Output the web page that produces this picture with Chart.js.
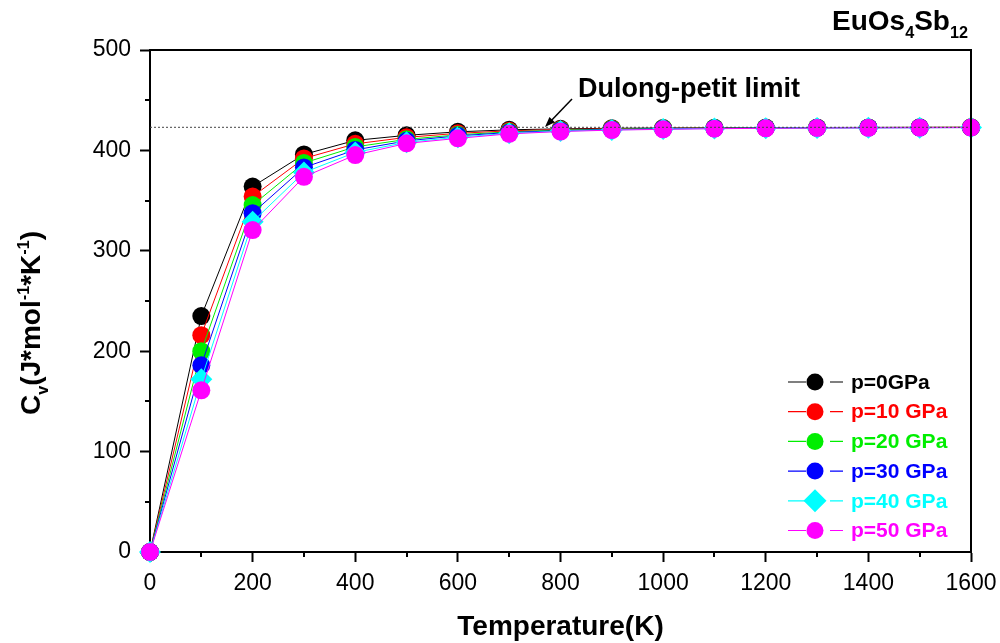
<!DOCTYPE html>
<html>
<head>
<meta charset="utf-8">
<script src="https://cdn.jsdelivr.net/npm/chart.js@4"></script>
<style>
  body { margin: 0; background: #fff; }
  canvas { display: block; }
</style>
</head>
<body>
<canvas id="cv" width="1000" height="643"></canvas>
<script>
// temperature (K) and heat capacity Cv (J/mol/K) at each pressure
var temps = [0, 100, 200, 300, 400, 500, 600, 700, 800, 900, 1000, 1100, 1200, 1300, 1400, 1500, 1600];
var cv0  = [0, 235, 364, 396, 410, 415, 418.5, 420.5, 421.5, 422, 422.3, 422.5, 422.7, 422.8, 422.9, 423, 423];
var cv10 = [0, 216, 354, 392, 406.5, 413, 417, 419.5, 420.8, 421.6, 422, 422.3, 422.5, 422.7, 422.8, 422.9, 423];
var cv20 = [0, 200, 345.5, 387.5, 403.5, 411, 415.5, 418.5, 420.2, 421.2, 421.8, 422.2, 422.4, 422.6, 422.7, 422.8, 422.9];
var cv30 = [0, 186, 337.5, 383, 400.5, 409.5, 414.5, 417.8, 419.7, 420.8, 421.5, 422, 422.3, 422.5, 422.6, 422.7, 422.8];
var cv40 = [0, 172, 329, 378, 398, 408, 413.2, 417, 419.2, 420.4, 421.2, 421.8, 422.1, 422.4, 422.5, 422.6, 422.7];
var cv50 = [0, 161, 320.6, 373.7, 395.4, 407, 412, 416.5, 418.8, 420.2, 421, 421.6, 422, 422.3, 422.5, 422.6, 422.7];
var dulongPetit = 423;

var seriesLabels = ['p=0GPa', 'p=10 GPa', 'p=20 GPa', 'p=30 GPa', 'p=40 GPa', 'p=50 GPa'];
var seriesValues = [cv0, cv10, cv20, cv30, cv40, cv50];
var colors = ['#000000', '#ff0000', '#00ee00', '#0000ff', '#00ffff', '#ff00ff'];
var styles = ['circle', 'circle', 'circle', 'circle', 'rectRot', 'circle'];

var FONT = '"Liberation Sans", Arial, sans-serif';

function pts(vals) {
  return temps.map(function (t, i) { return { x: t, y: vals[i] }; });
}

var datasets = seriesValues.map(function (vals, i) {
  return {
    label: seriesLabels[i],
    data: pts(vals),
    borderColor: colors[i],
    backgroundColor: colors[i],
    borderWidth: 1,
    pointStyle: styles[i],
    pointRadius: styles[i] === 'rectRot' ? 11 : 9,
    pointBorderWidth: 0,
    pointBorderColor: colors[i],
    tension: 0,
    clip: false,
    order: 5 - i
  };
});

datasets.push({
  label: 'Dulong-petit',
  data: [{ x: temps[0], y: dulongPetit }, { x: temps[temps.length - 1], y: dulongPetit }],
  borderColor: '#444444',
  borderWidth: 1,
  borderDash: [2, 2],
  pointRadius: 0,
  clip: false,
  order: -1
});

// draws text pieces with sub/superscripts starting at x, baseline y
function richText(ctx, parts, x, y, size) {
  var cx = x;
  parts.forEach(function (p) {
    var s = p.s ? size * 0.58 : size;
    var dy = p.s === 'sub' ? size * 0.28 : (p.s === 'sup' ? -size * 0.38 : 0);
    ctx.font = 'bold ' + s + 'px ' + FONT;
    ctx.fillText(p.t, cx, y + dy);
    cx += ctx.measureText(p.t).width;
  });
  return cx - x;
}
function richWidth(ctx, parts, size) {
  var w = 0;
  parts.forEach(function (p) {
    var s = p.s ? size * 0.58 : size;
    ctx.font = 'bold ' + s + 'px ' + FONT;
    w += ctx.measureText(p.t).width;
  });
  return w;
}

var decor = {
  id: 'decor',
  afterDraw: function (chart) {
    var ctx = chart.ctx;
    var a = chart.chartArea;
    var xs = chart.scales.x, ys = chart.scales.y;
    ctx.save();

    // top and right frame
    ctx.strokeStyle = '#000';
    ctx.lineWidth = 2;
    ctx.beginPath();
    ctx.moveTo(a.left, a.top);
    ctx.lineTo(a.right, a.top);
    ctx.lineTo(a.right, a.bottom);
    ctx.stroke();

    // minor ticks
    ctx.lineWidth = 2;
    ctx.beginPath();
    for (var t = 100; t < 1600; t += 200) {
      var px = Math.round(xs.getPixelForValue(t));
      ctx.moveTo(px, a.bottom);
      ctx.lineTo(px, a.bottom + 5);
    }
    for (var v = 50; v < 500; v += 100) {
      var py = Math.round(ys.getPixelForValue(v));
      ctx.moveTo(a.left, py);
      ctx.lineTo(a.left - 5, py);
    }
    ctx.stroke();

    ctx.fillStyle = '#000';
    ctx.textBaseline = 'alphabetic';
    ctx.textAlign = 'left';

    // title
    var titleParts = [{ t: 'EuOs' }, { t: '4', s: 'sub' }, { t: 'Sb' }, { t: '12', s: 'sub' }];
    var tw = richWidth(ctx, titleParts, 28);
    richText(ctx, titleParts, 968 - tw, 30, 28);

    // x title
    ctx.font = 'bold 28px ' + FONT;
    ctx.textAlign = 'center';
    ctx.fillText('Temperature(K)', (a.left + a.right) / 2, 635);

    // y title
    var yParts = [{ t: 'C' }, { t: 'v', s: 'sub' }, { t: '(J*mol' }, { t: '-1', s: 'sup' },
      { t: '*K' }, { t: '-1', s: 'sup' }, { t: ')' }];
    ctx.textAlign = 'left';
    var yw = richWidth(ctx, yParts, 28);
    ctx.save();
    ctx.translate(40, 323);
    ctx.rotate(-Math.PI / 2);
    richText(ctx, yParts, -yw / 2, 0, 28);
    ctx.restore();

    // annotation
    ctx.font = 'bold 27px ' + FONT;
    ctx.textAlign = 'left';
    ctx.textBaseline = 'middle';
    ctx.fillText('Dulong-petit limit', 578, 90);
    var tipX = 545, tipY = 127;
    ctx.strokeStyle = '#000';
    ctx.lineWidth = 1.5;
    ctx.beginPath();
    ctx.moveTo(572, 99);
    ctx.lineTo(tipX + 3, tipY - 3);
    ctx.stroke();
    var ang = Math.atan2(tipY - 99, tipX - 572);
    ctx.beginPath();
    ctx.moveTo(tipX, tipY);
    ctx.lineTo(tipX - 11 * Math.cos(ang - 0.35), tipY - 11 * Math.sin(ang - 0.35));
    ctx.lineTo(tipX - 11 * Math.cos(ang + 0.35), tipY - 11 * Math.sin(ang + 0.35));
    ctx.closePath();
    ctx.fillStyle = '#000';
    ctx.fill();

    // legend
    ctx.font = 'bold 21px ' + FONT;
    seriesLabels.forEach(function (lab, i) {
      var y = 382 + i * 29.7;
      ctx.strokeStyle = colors[i];
      ctx.fillStyle = colors[i];
      ctx.lineWidth = 1.2;
      ctx.beginPath();
      ctx.moveTo(788, y); ctx.lineTo(806, y);
      ctx.moveTo(830, y); ctx.lineTo(843, y);
      ctx.stroke();
      ctx.beginPath();
      if (styles[i] === 'rectRot') {
        ctx.moveTo(815, y - 11.5); ctx.lineTo(826.5, y);
        ctx.lineTo(815, y + 11.5); ctx.lineTo(803.5, y);
        ctx.closePath();
      } else {
        ctx.arc(815, y, 8.5, 0, Math.PI * 2);
      }
      ctx.fill();
      ctx.fillText(lab, 851, y + 1);
    });

    ctx.restore();
  }
};

var tickFont = { family: FONT, size: 23 };

new Chart(document.getElementById('cv').getContext('2d'), {
  type: 'line',
  data: { datasets: datasets },
  options: {
    responsive: false,
    animation: false,
    devicePixelRatio: 1,
    layout: { padding: { left: 0, right: 29, top: 50, bottom: 0 } },
    plugins: { legend: { display: false }, tooltip: { enabled: false }, title: { display: false } },
    scales: {
      x: {
        type: 'linear',
        min: 0, max: 1600,
        ticks: {
          stepSize: 200, color: '#000', font: tickFont, padding: 8, maxRotation: 0,
          callback: function (v) { return String(v); }
        },
        border: { color: '#000', width: 2 },
        grid: { drawOnChartArea: false, drawTicks: true, tickLength: 10, tickWidth: 2, tickColor: '#000' },
        afterFit: function (s) { s.height = 91; s.paddingLeft = 0; s.paddingRight = 0; }
      },
      y: {
        min: 0, max: 500,
        ticks: { stepSize: 100, color: '#000', font: tickFont, padding: 9 },
        border: { color: '#000', width: 2 },
        grid: { drawOnChartArea: false, drawTicks: true, tickLength: 10, tickWidth: 2, tickColor: '#000' },
        afterFit: function (s) { s.width = 150; s.paddingTop = 0; s.paddingBottom = 0; }
      }
    }
  },
  plugins: [decor]
});
</script>
</body>
</html>
